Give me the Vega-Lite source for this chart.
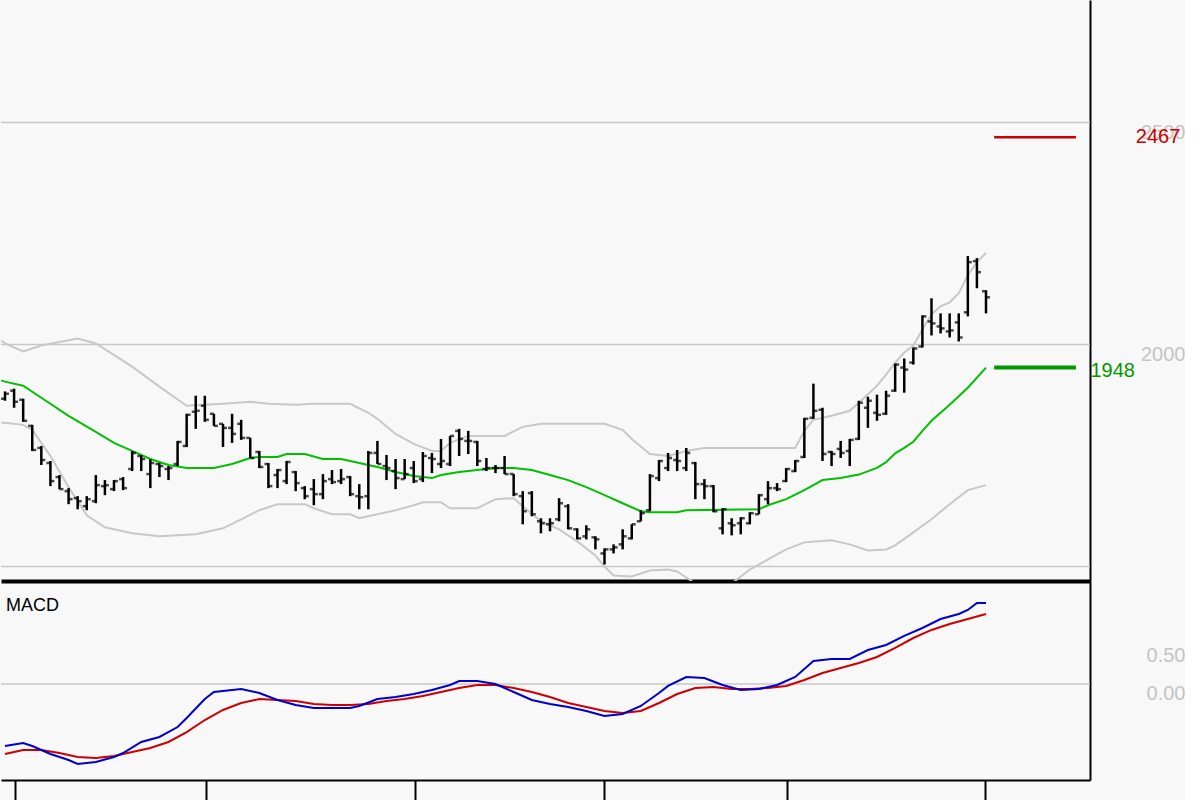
{
"$schema": "https://vega.github.io/schema/vega-lite/v6.json",
"background": "#f8f8f8",
"padding": 0,
"spacing": 0,
"bounds": "flush",
"config": {"view": {"stroke": null}, "axis": {"grid": false, "title": null, "labelFont": "Liberation Sans"}, "text": {"font": "Liberation Sans"}},
"datasets": {
"bars": [
{"i":0,"o":1877.8,"h":1894.3,"l":1873.3,"c":1889.1},
{"i":1,"o":1895.9,"h":1900.5,"l":1857.5,"c":1871.0},
{"i":2,"o":1875.6,"h":1877.8,"l":1825.8,"c":1828.1},
{"i":3,"o":1816.7,"h":1819.0,"l":1760.2,"c":1762.4},
{"i":4,"o":1767.0,"h":1771.5,"l":1728.5,"c":1739.8},
{"i":5,"o":1733.0,"h":1737.6,"l":1681.0,"c":1692.3},
{"i":6,"o":1701.4,"h":1705.9,"l":1674.2,"c":1674.2},
{"i":7,"o":1669.7,"h":1676.5,"l":1640.3,"c":1651.6},
{"i":8,"o":1653.9,"h":1658.4,"l":1628.9,"c":1647.1},
{"i":9,"o":1635.8,"h":1658.4,"l":1626.7,"c":1651.6},
{"i":10,"o":1647.1,"h":1705.9,"l":1642.5,"c":1683.3},
{"i":11,"o":1681.0,"h":1694.6,"l":1660.6,"c":1683.0},
{"i":12,"o":1674.2,"h":1694.6,"l":1669.7,"c":1692.3},
{"i":13,"o":1696.8,"h":1701.4,"l":1672.0,"c":1676.5},
{"i":14,"o":1719.5,"h":1760.2,"l":1714.9,"c":1755.7},
{"i":15,"o":1748.9,"h":1751.1,"l":1714.9,"c":1742.1},
{"i":16,"o":1708.1,"h":1742.1,"l":1676.5,"c":1733.0},
{"i":17,"o":1730.8,"h":1733.0,"l":1701.4,"c":1726.2},
{"i":18,"o":1719.5,"h":1726.2,"l":1694.6,"c":1721.7},
{"i":19,"o":1730.8,"h":1782.8,"l":1726.2,"c":1780.5},
{"i":20,"o":1771.5,"h":1843.9,"l":1769.2,"c":1841.6},
{"i":21,"o":1848.4,"h":1884.6,"l":1809.9,"c":1850.7},
{"i":22,"o":1862.0,"h":1884.6,"l":1825.8,"c":1830.3},
{"i":23,"o":1843.9,"h":1843.9,"l":1816.7,"c":1816.7},
{"i":24,"o":1821.3,"h":1821.3,"l":1769.2,"c":1812.2},
{"i":25,"o":1812.2,"h":1843.9,"l":1778.3,"c":1798.6},
{"i":26,"o":1821.3,"h":1830.3,"l":1785.1,"c":1789.6},
{"i":27,"o":1789.6,"h":1789.6,"l":1744.3,"c":1744.3},
{"i":28,"o":1757.9,"h":1760.2,"l":1721.7,"c":1724.0},
{"i":29,"o":1730.8,"h":1733.0,"l":1676.5,"c":1681.0},
{"i":30,"o":1705.9,"h":1719.5,"l":1676.5,"c":1717.2},
{"i":31,"o":1692.3,"h":1737.6,"l":1685.5,"c":1735.3},
{"i":32,"o":1712.7,"h":1714.9,"l":1669.7,"c":1687.8},
{"i":33,"o":1676.5,"h":1681.0,"l":1651.6,"c":1658.4},
{"i":34,"o":1674.2,"h":1696.8,"l":1638.0,"c":1662.9},
{"i":35,"o":1662.9,"h":1708.1,"l":1651.6,"c":1692.3},
{"i":36,"o":1696.8,"h":1717.2,"l":1685.5,"c":1690.1},
{"i":37,"o":1692.3,"h":1719.5,"l":1685.5,"c":1696.8},
{"i":38,"o":1701.4,"h":1703.6,"l":1658.4,"c":1662.9},
{"i":39,"o":1658.4,"h":1685.5,"l":1628.9,"c":1656.1},
{"i":40,"o":1658.4,"h":1760.2,"l":1628.9,"c":1755.7},
{"i":41,"o":1755.7,"h":1782.8,"l":1730.8,"c":1730.8},
{"i":42,"o":1726.2,"h":1751.1,"l":1694.6,"c":1721.7},
{"i":43,"o":1714.9,"h":1742.1,"l":1674.2,"c":1699.1},
{"i":44,"o":1696.8,"h":1742.1,"l":1696.8,"c":1708.1},
{"i":45,"o":1721.7,"h":1737.6,"l":1687.8,"c":1692.3},
{"i":46,"o":1696.8,"h":1757.9,"l":1690.1,"c":1748.9},
{"i":47,"o":1744.3,"h":1755.7,"l":1710.4,"c":1742.1},
{"i":48,"o":1730.8,"h":1787.3,"l":1721.7,"c":1737.6},
{"i":49,"o":1730.8,"h":1794.1,"l":1726.2,"c":1794.1},
{"i":50,"o":1805.4,"h":1810.0,"l":1748.9,"c":1787.3},
{"i":51,"o":1782.8,"h":1805.4,"l":1753.4,"c":1782.8},
{"i":52,"o":1780.5,"h":1782.8,"l":1726.2,"c":1737.6},
{"i":53,"o":1719.5,"h":1744.3,"l":1714.9,"c":1721.7},
{"i":54,"o":1721.7,"h":1728.5,"l":1710.4,"c":1721.7},
{"i":55,"o":1721.7,"h":1748.9,"l":1708.1,"c":1708.1},
{"i":56,"o":1708.1,"h":1708.1,"l":1658.4,"c":1662.9},
{"i":57,"o":1658.4,"h":1669.7,"l":1595.0,"c":1624.4},
{"i":58,"o":1665.2,"h":1669.7,"l":1613.1,"c":1617.7},
{"i":59,"o":1601.8,"h":1608.6,"l":1574.7,"c":1597.3},
{"i":60,"o":1595.0,"h":1608.6,"l":1579.2,"c":1597.3},
{"i":61,"o":1606.3,"h":1653.9,"l":1601.8,"c":1642.5},
{"i":62,"o":1635.8,"h":1640.3,"l":1583.7,"c":1585.9},
{"i":63,"o":1583.7,"h":1585.9,"l":1561.1,"c":1563.3},
{"i":64,"o":1567.9,"h":1592.8,"l":1561.1,"c":1583.7},
{"i":65,"o":1565.6,"h":1567.9,"l":1538.5,"c":1561.1},
{"i":66,"o":1529.4,"h":1540.7,"l":1504.5,"c":1538.5},
{"i":67,"o":1538.5,"h":1549.8,"l":1529.4,"c":1543.0},
{"i":68,"o":1549.8,"h":1583.7,"l":1538.5,"c":1567.9},
{"i":69,"o":1563.3,"h":1595.0,"l":1561.1,"c":1595.0},
{"i":70,"o":1601.8,"h":1626.7,"l":1601.8,"c":1619.9},
{"i":71,"o":1626.7,"h":1708.1,"l":1624.4,"c":1703.6},
{"i":72,"o":1699.1,"h":1739.8,"l":1692.3,"c":1737.6},
{"i":73,"o":1721.7,"h":1755.7,"l":1714.9,"c":1744.3},
{"i":74,"o":1739.8,"h":1762.4,"l":1714.9,"c":1737.6},
{"i":75,"o":1721.7,"h":1767.0,"l":1714.9,"c":1755.7},
{"i":76,"o":1733.0,"h":1735.3,"l":1651.6,"c":1685.5},
{"i":77,"o":1685.5,"h":1696.8,"l":1651.6,"c":1681.0},
{"i":78,"o":1681.0,"h":1683.3,"l":1622.2,"c":1624.4},
{"i":79,"o":1585.9,"h":1631.2,"l":1572.4,"c":1628.9},
{"i":80,"o":1597.3,"h":1608.6,"l":1570.1,"c":1592.8},
{"i":81,"o":1597.3,"h":1610.9,"l":1572.4,"c":1608.6},
{"i":82,"o":1597.3,"h":1622.2,"l":1595.0,"c":1619.9},
{"i":83,"o":1617.7,"h":1662.9,"l":1617.7,"c":1660.6},
{"i":84,"o":1651.6,"h":1692.3,"l":1640.3,"c":1676.5},
{"i":85,"o":1676.5,"h":1687.8,"l":1669.7,"c":1674.2},
{"i":86,"o":1692.3,"h":1721.7,"l":1690.1,"c":1719.5},
{"i":87,"o":1714.9,"h":1739.8,"l":1712.7,"c":1737.6},
{"i":88,"o":1746.6,"h":1834.8,"l":1744.3,"c":1832.6},
{"i":89,"o":1834.8,"h":1911.8,"l":1832.6,"c":1850.7},
{"i":90,"o":1852.9,"h":1857.5,"l":1737.6,"c":1753.4},
{"i":91,"o":1757.9,"h":1760.2,"l":1726.2,"c":1753.4},
{"i":92,"o":1764.7,"h":1782.8,"l":1744.3,"c":1755.7},
{"i":93,"o":1760.2,"h":1787.3,"l":1726.2,"c":1785.1},
{"i":94,"o":1787.3,"h":1873.3,"l":1785.1,"c":1868.8},
{"i":95,"o":1857.5,"h":1882.4,"l":1812.2,"c":1873.3},
{"i":96,"o":1846.1,"h":1886.9,"l":1828.1,"c":1841.6},
{"i":97,"o":1843.9,"h":1895.9,"l":1841.6,"c":1884.6},
{"i":98,"o":1895.9,"h":1957.0,"l":1893.7,"c":1954.8},
{"i":99,"o":1948.0,"h":1968.3,"l":1891.4,"c":1943.4},
{"i":100,"o":1959.3,"h":1993.2,"l":1954.8,"c":1991.0},
{"i":101,"o":1995.5,"h":2065.6,"l":1993.2,"c":2063.3},
{"i":102,"o":2052.0,"h":2104.1,"l":2020.4,"c":2047.5},
{"i":103,"o":2040.7,"h":2070.1,"l":2024.9,"c":2036.2},
{"i":104,"o":2029.4,"h":2070.1,"l":2015.8,"c":2031.7},
{"i":105,"o":2049.8,"h":2070.1,"l":2006.8,"c":2015.8},
{"i":106,"o":2072.4,"h":2199.1,"l":2063.3,"c":2185.5},
{"i":107,"o":2187.8,"h":2194.6,"l":2126.7,"c":2162.9},
{"i":108,"o":2119.9,"h":2122.2,"l":2070.1,"c":2106.3}
],
"upper": [
{"i":-0.4,"v":2009},{"i":0,"v":2002.3},{"i":2,"v":1984.2},{"i":4,"v":1997.7},{"i":8,"v":2013.6},{"i":10,"v":2002.3},{"i":14,"v":1950.2},{"i":17,"v":1905.0},{"i":20,"v":1862.0},{"i":24,"v":1866.5},{"i":27,"v":1871.0},{"i":29,"v":1866.5},{"i":32,"v":1864.3},{"i":34,"v":1866.5},{"i":38,"v":1866.5},{"i":40,"v":1846.2},{"i":41,"v":1832.6},{"i":43,"v":1798.6},{"i":45,"v":1776.0},{"i":47,"v":1760.2},{"i":48,"v":1760.2},{"i":49,"v":1778.3},{"i":51,"v":1794.1},{"i":55,"v":1794.1},{"i":57,"v":1814.5},{"i":59,"v":1821.3},{"i":66,"v":1821.3},{"i":68,"v":1807.7},{"i":69,"v":1787.3},{"i":71,"v":1753.4},{"i":73,"v":1748.9},{"i":75,"v":1760.2},{"i":77,"v":1767.0},{"i":87,"v":1767.0},{"i":88,"v":1805.4},{"i":89,"v":1830.3},{"i":91,"v":1839.4},{"i":93,"v":1850.7},{"i":94,"v":1868.8},{"i":96,"v":1907.2},{"i":97,"v":1932.1},{"i":98,"v":1959.3},{"i":99,"v":1981.9},{"i":100,"v":1997.7},{"i":101,"v":2033.9},{"i":102,"v":2067.9},{"i":103,"v":2086.0},{"i":104,"v":2095.0},{"i":105,"v":2115.4},{"i":106,"v":2156.1},{"i":107,"v":2185.5},{"i":108,"v":2205.9}
],
"middle": [
{"i":-0.4,"v":1919},{"i":0,"v":1916.3},{"i":2,"v":1907.2},{"i":4,"v":1880.1},{"i":7,"v":1839.4},{"i":10,"v":1803.2},{"i":12,"v":1778.3},{"i":14,"v":1760.2},{"i":16,"v":1742.1},{"i":18,"v":1728.5},{"i":20,"v":1721.7},{"i":23,"v":1721.7},{"i":25,"v":1730.8},{"i":27,"v":1744.3},{"i":28,"v":1746.6},{"i":30,"v":1746.6},{"i":31,"v":1753.4},{"i":33,"v":1753.4},{"i":35,"v":1742.1},{"i":37,"v":1742.1},{"i":38,"v":1737.6},{"i":40,"v":1728.5},{"i":41,"v":1724.0},{"i":43,"v":1712.7},{"i":45,"v":1703.6},{"i":47,"v":1699.1},{"i":48,"v":1705.9},{"i":50,"v":1712.7},{"i":52,"v":1717.2},{"i":54,"v":1721.7},{"i":56,"v":1721.7},{"i":58,"v":1717.2},{"i":60,"v":1705.9},{"i":62,"v":1694.6},{"i":64,"v":1678.7},{"i":66,"v":1660.6},{"i":68,"v":1642.5},{"i":70,"v":1624.4},{"i":71,"v":1622.2},{"i":74,"v":1622.2},{"i":75,"v":1626.7},{"i":83,"v":1629.0},{"i":84,"v":1638.0},{"i":86,"v":1651.6},{"i":88,"v":1671.9},{"i":89,"v":1683.3},{"i":90,"v":1694.6},{"i":92,"v":1699.1},{"i":94,"v":1707.0},{"i":96,"v":1722.0},{"i":97,"v":1735.0},{"i":98,"v":1755.0},{"i":99,"v":1767.0},{"i":100,"v":1781.0},{"i":101,"v":1805.4},{"i":102,"v":1828.1},{"i":104,"v":1864.3},{"i":106,"v":1902.7},{"i":108,"v":1948.0}
],
"lower": [
{"i":-0.4,"v":1823.5},{"i":0,"v":1823.5},{"i":2,"v":1819.0},{"i":3,"v":1807.7},{"i":5,"v":1748.9},{"i":7,"v":1678.7},{"i":9,"v":1615.4},{"i":11,"v":1588.2},{"i":14,"v":1574.7},{"i":17,"v":1567.9},{"i":21,"v":1572.4},{"i":24,"v":1586.0},{"i":26,"v":1606.3},{"i":28,"v":1626.7},{"i":30,"v":1640.3},{"i":33,"v":1640.3},{"i":34,"v":1631.2},{"i":36,"v":1617.7},{"i":38,"v":1617.7},{"i":39,"v":1608.6},{"i":41,"v":1617.7},{"i":43,"v":1626.7},{"i":45,"v":1638.0},{"i":46,"v":1644.8},{"i":48,"v":1644.8},{"i":49,"v":1631.2},{"i":52,"v":1631.2},{"i":54,"v":1651.6},{"i":56,"v":1653.9},{"i":57,"v":1635.8},{"i":59,"v":1601.8},{"i":61,"v":1583.7},{"i":63,"v":1556.6},{"i":65,"v":1524.9},{"i":66,"v":1500.0},{"i":67,"v":1479.6},{"i":69,"v":1477.4},{"i":71,"v":1491.0},{"i":73,"v":1493.2},{"i":74,"v":1488.7},{"i":76,"v":1461.6},{"i":78,"v":1452.5},{"i":80,"v":1461.6},{"i":82,"v":1493.2},{"i":84,"v":1515.8},{"i":86,"v":1538.5},{"i":88,"v":1554.3},{"i":91,"v":1558.8},{"i":93,"v":1549.8},{"i":95,"v":1536.2},{"i":97,"v":1538.5},{"i":98,"v":1547.5},{"i":100,"v":1576.9},{"i":102,"v":1606.3},{"i":104,"v":1640.3},{"i":106,"v":1672.0},{"i":108,"v":1683.3}
],
"macd": [
{"i":0,"v":-0.816},{"i":2,"v":-0.776},{"i":3,"v":-0.816},{"i":5,"v":-0.921},{"i":7,"v":-1.0},{"i":8,"v":-1.053},{"i":10,"v":-1.026},{"i":12,"v":-0.961},{"i":13,"v":-0.908},{"i":15,"v":-0.763},{"i":17,"v":-0.697},{"i":19,"v":-0.566},{"i":20,"v":-0.447},{"i":22,"v":-0.197},{"i":23,"v":-0.105},{"i":25,"v":-0.079},{"i":26,"v":-0.066},{"i":28,"v":-0.118},{"i":30,"v":-0.211},{"i":32,"v":-0.276},{"i":34,"v":-0.316},{"i":36,"v":-0.316},{"i":38,"v":-0.316},{"i":39,"v":-0.289},{"i":41,"v":-0.197},{"i":43,"v":-0.171},{"i":45,"v":-0.132},{"i":47,"v":-0.079},{"i":49,"v":-0.013},{"i":50,"v":0.039},{"i":52,"v":0.039},{"i":54,"v":0.0},{"i":56,"v":-0.105},{"i":58,"v":-0.211},{"i":60,"v":-0.263},{"i":62,"v":-0.303},{"i":64,"v":-0.355},{"i":66,"v":-0.421},{"i":68,"v":-0.395},{"i":70,"v":-0.289},{"i":72,"v":-0.118},{"i":73,"v":-0.026},{"i":75,"v":0.092},{"i":77,"v":0.079},{"i":79,"v":-0.013},{"i":81,"v":-0.079},{"i":83,"v":-0.066},{"i":85,"v":-0.013},{"i":87,"v":0.092},{"i":89,"v":0.303},{"i":91,"v":0.329},{"i":93,"v":0.329},{"i":95,"v":0.447},{"i":97,"v":0.513},{"i":99,"v":0.632},{"i":101,"v":0.737},{"i":103,"v":0.855},{"i":105,"v":0.921},{"i":106,"v":0.974},{"i":107,"v":1.066},{"i":108,"v":1.066}
],
"signal": [
{"i":0,"v":-0.921},{"i":2,"v":-0.868},{"i":4,"v":-0.868},{"i":6,"v":-0.908},{"i":8,"v":-0.961},{"i":10,"v":-0.974},{"i":12,"v":-0.947},{"i":14,"v":-0.895},{"i":16,"v":-0.842},{"i":18,"v":-0.763},{"i":20,"v":-0.632},{"i":22,"v":-0.474},{"i":24,"v":-0.342},{"i":26,"v":-0.25},{"i":28,"v":-0.197},{"i":30,"v":-0.211},{"i":32,"v":-0.224},{"i":34,"v":-0.263},{"i":36,"v":-0.276},{"i":38,"v":-0.276},{"i":40,"v":-0.263},{"i":42,"v":-0.224},{"i":44,"v":-0.197},{"i":46,"v":-0.158},{"i":48,"v":-0.105},{"i":50,"v":-0.053},{"i":52,"v":-0.013},{"i":54,"v":-0.013},{"i":56,"v":-0.053},{"i":58,"v":-0.105},{"i":60,"v":-0.171},{"i":62,"v":-0.25},{"i":64,"v":-0.303},{"i":66,"v":-0.355},{"i":68,"v":-0.382},{"i":70,"v":-0.355},{"i":72,"v":-0.25},{"i":74,"v":-0.132},{"i":76,"v":-0.053},{"i":78,"v":-0.039},{"i":80,"v":-0.066},{"i":82,"v":-0.066},{"i":84,"v":-0.053},{"i":86,"v":-0.026},{"i":88,"v":0.053},{"i":90,"v":0.145},{"i":92,"v":0.211},{"i":94,"v":0.276},{"i":96,"v":0.355},{"i":98,"v":0.474},{"i":100,"v":0.605},{"i":102,"v":0.711},{"i":104,"v":0.789},{"i":106,"v":0.855},{"i":108,"v":0.921}
]
},
"vconcat": [
{
"width": 1089,
"height": 581,
"layer": [
{"data": {"values": [{"g":1500},{"g":2000},{"g":2500}]},
 "mark": {"type": "rule", "color": "#c8c8c8", "strokeWidth": 1.5},
 "encoding": {"y": {"field": "g", "type": "quantitative", "title": null,
   "scale": {"domain": [1467.3, 2775.9], "nice": false, "zero": false},
   "axis": {"orient": "right", "values": [2000, 2500], "format": "d", "ticks": false, "tickSize": 0, "labelPadding": 95, "labelAlign": "right", "labelBaseline": "top", "labelColor": "#c4c4c4", "labelFontSize": 20, "domainColor": "#000000", "domainWidth": 2}}}},
{"data": {"name": "upper"}, "mark": {"type": "line", "color": "#c8c8c8", "strokeWidth": 2, "clip": true},
 "encoding": {"x": {"field": "i", "type": "quantitative", "title": null}, "y": {"field": "v", "type": "quantitative", "title": null}}},
{"data": {"name": "lower"}, "mark": {"type": "line", "color": "#c8c8c8", "strokeWidth": 2, "clip": true},
 "encoding": {"x": {"field": "i", "type": "quantitative", "title": null}, "y": {"field": "v", "type": "quantitative", "title": null}}},
{"data": {"name": "middle"}, "mark": {"type": "line", "color": "#00c000", "strokeWidth": 2, "clip": true},
 "encoding": {"x": {"field": "i", "type": "quantitative", "title": null}, "y": {"field": "v", "type": "quantitative", "title": null}}},
{"data": {"name": "bars"}, "mark": {"type": "rule", "color": "#000000", "strokeWidth": 2.5},
 "encoding": {"x": {"field": "i", "type": "quantitative", "title": null,
   "scale": {"domain": [-0.44, 119.45], "nice": false, "zero": false},
   "axis": {"orient": "bottom", "labels": false, "ticks": false, "domainColor": "#000000", "domainWidth": 4}},
  "y": {"field": "l", "type": "quantitative", "title": null}, "y2": {"field": "h"}}},
{"data": {"name": "bars"}, "mark": {"type": "tick", "orient": "horizontal", "color": "#000000", "size": 4, "thickness": 2.5, "xOffset": -2},
 "encoding": {"x": {"field": "i", "type": "quantitative", "title": null}, "y": {"field": "o", "type": "quantitative", "title": null}}},
{"data": {"name": "bars"}, "mark": {"type": "tick", "orient": "horizontal", "color": "#000000", "size": 4, "thickness": 2.5, "xOffset": 2},
 "encoding": {"x": {"field": "i", "type": "quantitative", "title": null}, "y": {"field": "c", "type": "quantitative", "title": null}}},
{"data": {"values": [{"v": 2467, "a": 108.9, "b": 117.9}]}, "mark": {"type": "rule", "color": "#cc0000", "strokeWidth": 2.5},
 "encoding": {"x": {"field": "a", "type": "quantitative", "title": null}, "x2": {"field": "b"}, "y": {"field": "v", "type": "quantitative", "title": null}}},
{"data": {"values": [{"v": 1948, "a": 108.9, "b": 117.9}]}, "mark": {"type": "rule", "color": "#009900", "strokeWidth": 4},
 "encoding": {"x": {"field": "a", "type": "quantitative", "title": null}, "x2": {"field": "b"}, "y": {"field": "v", "type": "quantitative", "title": null}}},
{"data": {"values": [{"t": "2467", "v": 2467, "tx": 124.5}]}, "mark": {"type": "text", "color": "#cc0000", "fontSize": 20, "align": "left", "baseline": "middle"},
 "encoding": {"x": {"field": "tx", "type": "quantitative", "title": null}, "y": {"field": "v", "type": "quantitative", "title": null}, "text": {"field": "t"}}},
{"data": {"values": [{"t": "1948", "v": 1948, "tx": 119.5}]}, "mark": {"type": "text", "color": "#009900", "fontSize": 20, "align": "left", "baseline": "middle", "dy": 3},
 "encoding": {"x": {"field": "tx", "type": "quantitative", "title": null}, "y": {"field": "v", "type": "quantitative", "title": null}, "text": {"field": "t"}}}
]
},
{
"width": 1089,
"height": 199,
"layer": [
{"data": {"values": [{"z": 0}]},
 "mark": {"type": "rule", "color": "#c8c8c8", "strokeWidth": 1.5},
 "encoding": {"y": {"field": "z", "type": "quantitative", "title": null,
   "scale": {"domain": [-1.263, 1.355], "nice": false, "zero": false},
   "axis": {"orient": "right", "values": [0, 0.5], "format": ".2f", "ticks": false, "tickSize": 0, "labelPadding": 95, "labelAlign": "right", "labelBaseline": "top", "labelColor": "#c4c4c4", "labelFontSize": 20, "domainColor": "#000000", "domainWidth": 2}}}},
{"data": {"name": "signal"}, "mark": {"type": "line", "color": "#cc0000", "strokeWidth": 2},
 "encoding": {"x": {"field": "i", "type": "quantitative", "title": null,
   "scale": {"domain": [-0.44, 119.45], "nice": false, "zero": false},
   "axis": {"orient": "bottom", "values": [1.1, 22.13, 45.14, 66.0, 86.04, 107.89], "labels": false, "ticks": true, "tickSize": 20, "tickWidth": 2, "tickColor": "#000000", "domainColor": "#000000", "domainWidth": 2}},
  "y": {"field": "v", "type": "quantitative", "title": null}}},
{"data": {"name": "macd"}, "mark": {"type": "line", "color": "#0000cc", "strokeWidth": 2},
 "encoding": {"x": {"field": "i", "type": "quantitative", "title": null}, "y": {"field": "v", "type": "quantitative", "title": null}}},
{"data": {"values": [{"t": "MACD", "i": 0.1, "v": 1.14}]}, "mark": {"type": "text", "color": "#000000", "fontSize": 18, "align": "left", "baseline": "top"},
 "encoding": {"x": {"field": "i", "type": "quantitative", "title": null}, "y": {"field": "v", "type": "quantitative", "title": null}, "text": {"field": "t"}}}
]
}
]
}
